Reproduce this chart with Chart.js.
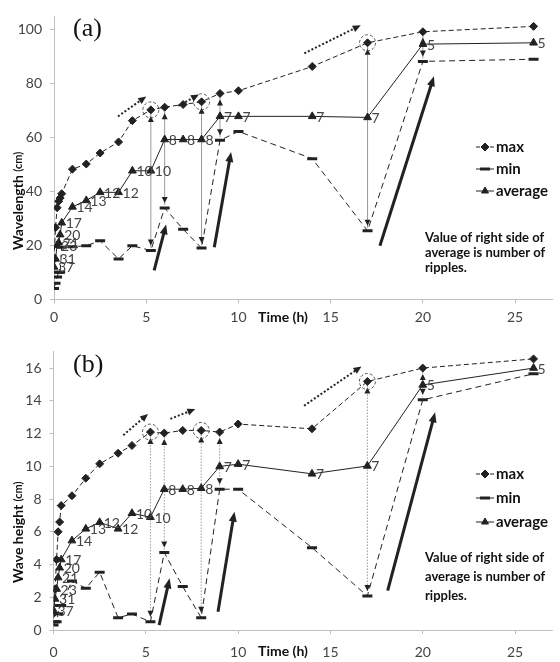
<!DOCTYPE html>
<html>
<head>
<meta charset="utf-8">
<script src="https://cdn.jsdelivr.net/npm/chart.js@4.4.1/dist/chart.umd.min.js"></script>
<style>
  html, body { margin: 0; padding: 0; background: #fff; }
  canvas { display: block; }
</style>
</head>
<body>
<canvas id="chartA" width="560" height="330"></canvas>
<canvas id="chartB" width="560" height="332"></canvas>
<script>
// time axis shared by both panels (h)
const hours = [0, 0.083, 0.167, 0.25, 0.333, 0.417, 1, 1.75, 2.5, 3.5, 4.25, 5.25, 6, 7, 8, 9, 10, 14, 17, 20, 26];
// number of ripples, printed right of the average markers
const rippleCount = [37, 31, 23, 21, 20, 17, 14, 13, 12, 12, 10, 10, 8, 8, 8, 7, 7, 7, 7, 5, 5];

// (a) wavelength, cm
const wavelengthMax = [15, 26.6, 34, 36.4, 37.6, 39.2, 48.3, 50.2, 54.3, 58.4, 66.3, 70.3, 71.3, 72.3, 73.3, 76.4, 77.4, 86.4, 95.2, 99.3, 101.3];
const wavelengthMin = [4, 6, 8.3, 10, 10, 19.3, 19.5, 19.9, 21.7, 15, 19.9, 18.1, 33.9, 26, 19, 59, 62.3, 52.2, 25.4, 88.3, 89.1];
const wavelengthAvg = [12, 15, 20, 21, 24, 28.4, 34.3, 36.7, 39.7, 39.7, 47.7, 47.7, 59.3, 59.3, 59.3, 67.9, 67.9, 67.9, 67.5, 94.7, 95.2];

// (b) wave height, cm
const heightMax = [1.0, 2.5, 4.3, 6.0, 6.6, 7.6, 8.2, 9.27, 10.15, 10.8, 11.27, 12.09, 12.03, 12.19, 12.19, 12.09, 12.58, 12.29, 15.18, 16.0, 16.56];
const heightMin = [0.3, 0.5, 0.5, 1.0, 1.5, 1.5, 3.0, 2.55, 3.53, 0.75, 0.98, 0.5, 4.73, 2.65, 0.75, 8.6, 8.6, 5.03, 2.08, 14.06, 15.65];
const heightAvg = [1.2, 1.9, 2.5, 3.2, 3.8, 4.3, 5.46, 6.18, 6.58, 6.18, 7.13, 6.89, 8.6, 8.6, 8.66, 9.99, 10.13, 9.54, 10.02, 14.97, 16.0];

const xTicks = [0, 5, 10, 15, 20, 25];
const yTicksA = [0, 20, 40, 60, 80, 100];
const yTicksB = [0, 2, 4, 6, 8, 10, 12, 14, 16];

// times where the max-min range is marked, and circled max points
const rangeHours = [5.25, 6, 8, 9, 17, 20];
const circledHours = [5.25, 8, 17];

// annotation arrows in data units: [x0, y0, x1, y1]
const dottedArrowsA = [[3.47, 67.9, 5.0, 75.3], [6.74, 71.8, 7.86, 76], [13.57, 91.3, 16.63, 101.7]];
const solidArrowsA = [[5.43, 10.7, 6.08, 27.8], [8.69, 19.3, 9.6, 54.7], [17.67, 19.9, 20.6, 82.8]];
const dottedArrowsB = [[3.78, 11.9, 5.12, 13.2], [6.33, 12.9, 7.68, 13.5], [13.57, 13.7, 16.68, 16.1]];
const solidArrowsB = [[5.72, 0.3, 6.29, 3.16], [8.91, 1.12, 9.8, 7.23], [18.1, 2.4, 20.67, 13.3]];

const ink = '#222';
const axisGrey = '#bfbfbf';
const tickText = '#444';
const font = 'Lato';

function toPoints(values) {
  return hours.map((h, i) => ({ x: h, y: values[i] }));
}

function arrowHead(ctx, x0, y0, x1, y1, len, half) {
  const a = Math.atan2(y1 - y0, x1 - x0);
  ctx.beginPath();
  ctx.moveTo(x1, y1);
  ctx.lineTo(x1 - len * Math.cos(a) + half * Math.sin(a), y1 - len * Math.sin(a) - half * Math.cos(a));
  ctx.lineTo(x1 - len * Math.cos(a) - half * Math.sin(a), y1 - len * Math.sin(a) + half * Math.cos(a));
  ctx.closePath();
  ctx.fill();
}

function drawArrow(ctx, xs, ys, a, dotted) {
  const x0 = xs.getPixelForValue(a[0]), y0 = ys.getPixelForValue(a[1]);
  const x1 = xs.getPixelForValue(a[2]), y1 = ys.getPixelForValue(a[3]);
  const ang = Math.atan2(y1 - y0, x1 - x0);
  ctx.save();
  ctx.strokeStyle = ink;
  ctx.fillStyle = ink;
  ctx.lineWidth = dotted ? 2 : 3;
  ctx.setLineDash(dotted ? [2, 2] : []);
  ctx.beginPath();
  ctx.moveTo(x0, y0);
  ctx.lineTo(x1 - 6 * Math.cos(ang), y1 - 6 * Math.sin(ang));
  ctx.stroke();
  ctx.setLineDash([]);
  arrowHead(ctx, x0, y0, x1, y1, dotted ? 8 : 10, dotted ? 3.5 : 4);
  ctx.restore();
}

function makeDecor(cfg) {
  return {
    id: 'decor' + cfg.panel,
    beforeDatasetsDraw(chart) {
      const ctx = chart.ctx;
      const xs = chart.scales.x, ys = chart.scales.y;
      // vertical max-min range markers
      rangeHours.forEach((h) => {
        const i = hours.indexOf(h);
        const x = xs.getPixelForValue(h);
        const top = ys.getPixelForValue(cfg.max[i]);
        const bot = ys.getPixelForValue(cfg.min[i]);
        ctx.save();
        ctx.strokeStyle = '#9a9a9a';
        ctx.lineWidth = 1;
        ctx.setLineDash(cfg.rangeDash);
        ctx.beginPath();
        ctx.moveTo(x, top + 4);
        ctx.lineTo(x, bot - 3);
        ctx.stroke();
        ctx.setLineDash([]);
        ctx.fillStyle = ink;
        arrowHead(ctx, x, top + 14, x, top + 6, 6, 3);
        arrowHead(ctx, x, bot - 13, x, bot - 5, 6, 3);
        ctx.restore();
      });
    },
    afterDatasetsDraw(chart) {
      const ctx = chart.ctx;
      const xs = chart.scales.x, ys = chart.scales.y;
      // dashed circles round the max points
      circledHours.forEach((h) => {
        const i = hours.indexOf(h);
        ctx.save();
        ctx.strokeStyle = '#555';
        ctx.lineWidth = 1;
        ctx.setLineDash([3, 2]);
        ctx.beginPath();
        ctx.arc(xs.getPixelForValue(h), ys.getPixelForValue(cfg.max[i]), 8, 0, Math.PI * 2);
        ctx.stroke();
        ctx.restore();
      });
      cfg.dotted.forEach((a) => drawArrow(ctx, xs, ys, a, true));
      cfg.solid.forEach((a) => drawArrow(ctx, xs, ys, a, false));

      // ripple counts right of the average markers
      const meta = chart.getDatasetMeta(2);
      ctx.save();
      ctx.fillStyle = tickText;
      ctx.font = '14px ' + font;
      ctx.textBaseline = 'middle';
      meta.data.forEach((pt, i) => {
        ctx.fillText(String(rippleCount[i]), pt.x + 4, pt.y + 1);
      });
      ctx.restore();

      // panel letter
      ctx.save();
      ctx.fillStyle = '#111';
      ctx.font = '26px "Liberation Serif"';
      ctx.textBaseline = 'middle';
      ctx.fillText(cfg.letter, 73, cfg.letterY);
      ctx.restore();

      // y axis title, "(cm)" a bit smaller
      ctx.save();
      ctx.translate(18, cfg.titleY);
      ctx.rotate(-Math.PI / 2);
      ctx.fillStyle = '#111';
      ctx.textBaseline = 'middle';
      ctx.font = 'bold 14px ' + font;
      ctx.fillText(cfg.yTitle + ' ', 0, 0);
      const w = ctx.measureText(cfg.yTitle + ' ').width;
      ctx.font = 'bold 11px ' + font;
      ctx.fillText('(cm)', w, 0);
      ctx.restore();

      // x axis title
      ctx.save();
      ctx.fillStyle = '#111';
      ctx.font = 'bold 14px ' + font;
      ctx.textAlign = 'center';
      ctx.textBaseline = 'middle';
      ctx.fillText('Time (h)', 283, chart.chartArea.bottom + cfg.timeDy);
      ctx.restore();

      // legend
      const entries = [
        { text: 'max', style: 'rectRot', r: 4, dash: [4, 3], bw: 1 },
        { text: 'min', style: 'line', r: 5, dash: [4, 3], bw: 3 },
        { text: 'average', style: 'triangle', r: 4, dash: [], bw: 1 }
      ];
      entries.forEach((e, k) => {
        const y = cfg.legendY[k];
        ctx.save();
        ctx.strokeStyle = ink;
        ctx.fillStyle = ink;
        ctx.lineWidth = 1;
        ctx.setLineDash(e.dash);
        ctx.beginPath();
        ctx.moveTo(476, y);
        ctx.lineTo(494, y);
        ctx.stroke();
        ctx.setLineDash([]);
        ctx.lineWidth = e.bw;
        Chart.helpers.drawPoint(ctx, {
          pointStyle: e.style, radius: e.r, rotation: 0, borderWidth: e.bw
        }, 485, y);
        ctx.restore();
        ctx.save();
        ctx.fillStyle = '#111';
        ctx.font = 'bold 15px ' + font;
        ctx.textBaseline = 'middle';
        ctx.fillText(e.text, 496, y);
        ctx.restore();
      });

      // note
      ctx.save();
      ctx.fillStyle = '#111';
      ctx.font = 'bold 13px ' + font;
      ctx.textBaseline = 'middle';
      ['Value of right side of', 'average is number of', 'ripples.'].forEach((line, k) => {
        ctx.fillText(line, 425, cfg.noteY[k]);
      });
      ctx.restore();
    }
  };
}

function makeChart(id, cfg) {
  const ctx = document.getElementById(id);
  return new Chart(ctx, {
    type: 'scatter',
    data: {
      datasets: [
        {
          label: 'max', data: toPoints(cfg.max), showLine: true,
          borderColor: ink, backgroundColor: ink, borderWidth: 1, borderDash: [5, 3],
          pointStyle: 'rectRot', pointRadius: 4, pointBorderWidth: 1
        },
        {
          label: 'min', data: toPoints(cfg.min), showLine: true,
          borderColor: ink, backgroundColor: ink, borderWidth: 1, borderDash: [6, 4],
          pointStyle: 'line', pointRadius: 5, pointBorderWidth: 3
        },
        {
          label: 'average', data: toPoints(cfg.avg), showLine: true,
          borderColor: ink, backgroundColor: ink, borderWidth: 1,
          pointStyle: 'triangle', pointRadius: 4.5, pointBorderWidth: 1
        }
      ]
    },
    options: {
      responsive: false,
      animation: false,
      events: [],
      layout: { padding: { top: cfg.padTop, right: 5, left: 0, bottom: 0 } },
      plugins: { legend: { display: false }, tooltip: { enabled: false } },
      scales: {
        x: {
          type: 'linear', min: 0, max: 27,
          afterBuildTicks: (s) => { s.ticks = xTicks.map((v) => ({ value: v })); },
          afterFit: (s) => { s.height = cfg.xHeight; },
          grid: { drawOnChartArea: false, tickLength: 4, color: axisGrey },
          border: { color: axisGrey },
          ticks: { autoSkip: false, maxRotation: 0, padding: cfg.xPad, color: tickText, font: { family: font, size: 14 } }
        },
        y: {
          min: 0, max: cfg.yMax,
          afterBuildTicks: (s) => { s.ticks = cfg.yTicks.map((v) => ({ value: v })); },
          afterFit: (s) => { s.width = cfg.yWidth; },
          grid: { drawOnChartArea: false, tickLength: 4, color: axisGrey },
          border: { color: axisGrey },
          ticks: { autoSkip: false, padding: 8, color: tickText, font: { family: font, size: 14 } }
        }
      }
    },
    plugins: [makeDecor(cfg)]
  });
}

makeChart('chartA', {
  panel: 'A', letter: '(a)', letterY: 29, yTitle: 'Wavelength', titleY: 250,
  max: wavelengthMax, min: wavelengthMin, avg: wavelengthAvg,
  yMax: 105, yTicks: yTicksA, padTop: 13, xHeight: 30.7, yWidth: 54, xPad: 6, timeDy: 18,
  dotted: dottedArrowsA, solid: solidArrowsA, rangeDash: [],
  legendY: [147, 169, 191], noteY: [238, 253, 268]
});

makeChart('chartB', {
  panel: 'B', letter: '(b)', letterY: 35, yTitle: 'Wave height', titleY: 253,
  max: heightMax, min: heightMin, avg: heightAvg,
  yMax: 17, yTicks: yTicksB, padTop: 21.7, xHeight: 32, yWidth: 53.5, xPad: 10, timeDy: 21,
  dotted: dottedArrowsB, solid: solidArrowsB, rangeDash: [1.5, 1.5],
  legendY: [144, 168, 192], noteY: [228, 247, 266]
});
</script>
</body>
</html>
